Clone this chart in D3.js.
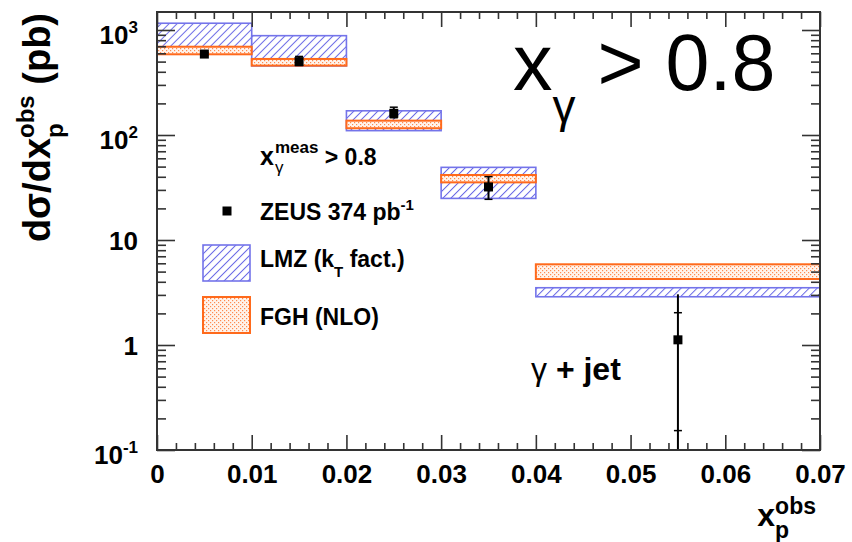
<!DOCTYPE html>
<html>
<head>
<meta charset="utf-8">
<script src="https://cdn.jsdelivr.net/npm/d3@7"></script>
<style>
  html, body { margin: 0; padding: 0; background: #fff; }
  svg { display: block; font-family: "Liberation Sans", Arial, Helvetica, sans-serif; }
</style>
</head>
<body>
<svg id="chart" width="852" height="542"></svg>
<script>
// Bin edges in x_p^obs
const binEdges = [0, 0.01, 0.02, 0.03, 0.04, 0.07];

// ZEUS data points (pb) with error bars
const zeusX      = [0.005, 0.015, 0.025, 0.035, 0.055];
const zeusY      = [590, 500, 161, 32, 1.12];
const zeusTotLo  = [570, 455, 144, 24.4, 0.05];
const zeusTotHi  = [612, 565, 184, 40.1, 3.04];
const zeusStatLo = [575, 460, 146, 24.4, 0.153];
const zeusStatHi = [605, 560, 184, 40.1, 2.03];

// LMZ (kT factorisation) prediction band
const lmzLo = [640, 455, 110, 24.9, 2.88];
const lmzHi = [1160, 883, 170, 49.2, 3.51];

// FGH (NLO) prediction band
const fghLo = [587, 458, 116, 35.4, 4.25];
const fghHi = [693, 530, 137, 41.6, 5.87];

// Axis ticks and labels
const xTicks = [0, 0.01, 0.02, 0.03, 0.04, 0.05, 0.06, 0.07];
const xTickLabels = ["0", "0.01", "0.02", "0.03", "0.04", "0.05", "0.06", "0.07"];
const yMajor = [0.1, 1, 10, 100, 1000];
const yTickBase = ["10", "1", "10", "10", "10"];
const yTickExp  = ["-1", "", "", "2", "3"];

const frame = { left: 157, right: 820, top: 12, bottom: 450 };
const FONT = "Liberation Sans, Arial, Helvetica, sans-serif";

const svg = d3.select("#chart");
const defs = svg.append("defs");

const blue = "#7474ea";
const orange = "#ff6a1c";

// hatch fill (LMZ): thin "/" stripes
const hatch = defs.append("pattern").attr("id", "hatch")
  .attr("patternUnits", "userSpaceOnUse")
  .attr("width", 5.66).attr("height", 5.66)
  .attr("patternTransform", "rotate(45)");
hatch.append("rect").attr("width", 5.66).attr("height", 5.66).attr("fill", "#ffffff");
hatch.append("rect").attr("x", 0).attr("y", 0).attr("width", 1).attr("height", 5.66).attr("fill", "#6a6ae6");

// dotted fill (FGH)
const dots = defs.append("pattern").attr("id", "dots")
  .attr("patternUnits", "userSpaceOnUse").attr("width", 4).attr("height", 4);
dots.append("rect").attr("width", 4).attr("height", 4).attr("fill", "#fff4ec");
dots.append("rect").attr("x", 0).attr("y", 0).attr("width", 1.2).attr("height", 1.2).attr("fill", "#ff8a50");
dots.append("rect").attr("x", 2).attr("y", 2).attr("width", 1.2).attr("height", 1.2).attr("fill", "#ff8a50");

defs.append("clipPath").attr("id", "plotclip").append("rect")
  .attr("x", frame.left).attr("y", frame.top)
  .attr("width", frame.right - frame.left).attr("height", frame.bottom - frame.top);

const x = d3.scaleLinear().domain([0, 0.07]).range([frame.left, frame.right]);
const y = d3.scaleLog().domain([0.1, 1484]).range([frame.bottom, frame.top]);

const plot = svg.append("g").attr("clip-path", "url(#plotclip)");
const bins = d3.range(zeusX.length);

// LMZ bands
plot.append("g").selectAll("rect").data(bins).join("rect")
  .attr("x", i => x(binEdges[i]))
  .attr("width", i => x(binEdges[i + 1]) - x(binEdges[i]))
  .attr("y", i => y(lmzHi[i]))
  .attr("height", i => y(lmzLo[i]) - y(lmzHi[i]))
  .attr("fill", "url(#hatch)").attr("stroke", blue).attr("stroke-width", 1.6);

// FGH bands
plot.append("g").selectAll("rect").data(bins).join("rect")
  .attr("x", i => x(binEdges[i]))
  .attr("width", i => x(binEdges[i + 1]) - x(binEdges[i]))
  .attr("y", i => y(fghHi[i]))
  .attr("height", i => y(fghLo[i]) - y(fghHi[i]))
  .attr("fill", "url(#dots)").attr("stroke", orange).attr("stroke-width", 2);

// ZEUS error bars
const eb = plot.append("g");
eb.selectAll("line.tot").data(bins).join("line").attr("class", "tot")
  .attr("x1", i => x(zeusX[i])).attr("x2", i => x(zeusX[i]))
  .attr("y1", i => y(zeusTotLo[i])).attr("y2", i => y(zeusTotHi[i]))
  .attr("stroke", "#000").attr("stroke-width", 2);
const caps = [];
bins.forEach(i => { caps.push([i, zeusStatLo[i]]); caps.push([i, zeusStatHi[i]]); });
eb.selectAll("line.cap").data(caps).join("line").attr("class", "cap")
  .attr("x1", d => x(zeusX[d[0]]) - 4).attr("x2", d => x(zeusX[d[0]]) + 4)
  .attr("y1", d => y(d[1])).attr("y2", d => y(d[1]))
  .attr("stroke", "#000").attr("stroke-width", 1.5);

// ZEUS markers
plot.append("g").selectAll("rect").data(bins).join("rect")
  .attr("x", i => x(zeusX[i]) - 4.5).attr("y", i => y(zeusY[i]) - 4.5)
  .attr("width", 9).attr("height", 9).attr("fill", "#000");

// ---- axes ----
const axisColor = "#333";
function styleAxis(g) {
  g.select(".domain").remove();
  g.selectAll(".tick line").attr("stroke", axisColor).attr("stroke-width", 1.6);
  g.attr("font-family", FONT).attr("font-weight", "bold").attr("font-size", 26);
}

const xMinor = d3.range(0, 71, 2).filter(v => v % 10 !== 0).map(v => v / 1000);
const yMinor = [];
[0.1, 1, 10, 100, 1000].forEach(dec => {
  for (let k = 2; k <= 9; k++) { const v = dec * k; if (v <= 1484) yMinor.push(v); }
});

// bottom
const gx = svg.append("g").attr("transform", `translate(0,${frame.bottom})`)
  .call(d3.axisBottom(x).tickValues(xTicks).tickSize(-15).tickPadding(15)
    .tickFormat((d, i) => xTickLabels[i]))
  .call(styleAxis);
gx.selectAll(".tick text").attr("fill", "#000");
svg.append("g").attr("transform", `translate(0,${frame.bottom})`)
  .call(d3.axisBottom(x).tickValues(xMinor).tickSize(-7).tickFormat(""))
  .call(styleAxis);

// top
svg.append("g").attr("transform", `translate(0,${frame.top})`)
  .call(d3.axisTop(x).tickValues(xTicks).tickSize(-15).tickFormat(""))
  .call(styleAxis);
svg.append("g").attr("transform", `translate(0,${frame.top})`)
  .call(d3.axisTop(x).tickValues(xMinor).tickSize(-7).tickFormat(""))
  .call(styleAxis);

// left
const gy = svg.append("g").attr("transform", `translate(${frame.left},0)`)
  .call(d3.axisLeft(y).tickValues(yMajor).tickSize(-18).tickPadding(19).tickFormat(""))
  .call(styleAxis);
gy.selectAll(".tick text").each(function(d, i) {
  const t = d3.select(this).attr("fill", "#000").attr("dy", null);
  const hasExp = yTickExp[i] !== "";
  t.attr("y", (hasExp ? 4 : 0) + 9);
  t.append("tspan").text(yTickBase[i]);
  if (hasExp) t.append("tspan").attr("font-size", 17).attr("dy", -11).text(yTickExp[i]);
});
svg.append("g").attr("transform", `translate(${frame.left},0)`)
  .call(d3.axisLeft(y).tickValues(yMinor).tickSize(-9).tickFormat(""))
  .call(styleAxis);

// right
svg.append("g").attr("transform", `translate(${frame.right},0)`)
  .call(d3.axisRight(y).tickValues(yMajor).tickSize(-18).tickFormat(""))
  .call(styleAxis);
svg.append("g").attr("transform", `translate(${frame.right},0)`)
  .call(d3.axisRight(y).tickValues(yMinor).tickSize(-9).tickFormat(""))
  .call(styleAxis);

// frame
svg.append("rect")
  .attr("x", frame.left).attr("y", frame.top)
  .attr("width", frame.right - frame.left).attr("height", frame.bottom - frame.top)
  .attr("fill", "none").attr("stroke", axisColor).attr("stroke-width", 2);

// ---- axis titles ----
function textWidth(str, size, weight) {
  const t = svg.append("text").attr("font-family", FONT)
    .attr("font-size", size).attr("font-weight", weight).text(str);
  const w = t.node().getComputedTextLength();
  t.remove();
  return w;
}

// x title: x_p^obs
{
  const fs = 32, ss = 23;
  const xw = textWidth("x", fs, "bold");
  const ow = textWidth("obs", ss, "bold");
  const x0 = 816 - ow - xw;
  svg.append("text").attr("x", x0).attr("y", 526)
    .attr("font-weight", "bold").attr("font-size", fs).text("x");
  svg.append("text").attr("x", x0 + xw).attr("y", 538)
    .attr("font-weight", "bold").attr("font-size", ss).text("p");
  svg.append("text").attr("x", x0 + xw).attr("y", 514)
    .attr("font-weight", "bold").attr("font-size", ss).text("obs");
}

// y title: dσ/dx_p^obs (pb)
{
  const fs = 38, ss = 24;
  const t = svg.append("text").attr("transform", "translate(50,13) rotate(-90)")
    .attr("text-anchor", "end").attr("font-weight", "bold").attr("font-size", fs);
  const pw = textWidth("p", ss, "bold");
  t.append("tspan").text("dσ/dx");
  t.append("tspan").attr("font-size", ss).attr("dy", 13).text("p");
  t.append("tspan").attr("font-size", ss).attr("dx", -pw).attr("dy", -29).text("obs");
  t.append("tspan").attr("dy", 16).text(" (pb)");
}

// ---- legend ----
const lg = svg.append("g").attr("font-weight", "bold").attr("font-size", 23).attr("fill", "#000");
{
  const t = lg.append("text").attr("x", 260).attr("y", 165);
  t.append("tspan").attr("font-size", 25).text("x");
  const xw = textWidth("x", 25, "bold");
  const mw = textWidth("meas", 17, "bold");
  t.append("tspan").attr("x", 260 + xw + 1).attr("dy", 8).attr("font-size", 17).attr("font-weight", "normal").text("γ");
  t.append("tspan").attr("x", 260 + xw + 1).attr("dy", -20).attr("font-size", 17).text("meas");
  t.append("tspan").attr("x", 260 + xw + 1 + mw).attr("dy", 12).text(" > 0.8");
}
lg.append("rect").attr("x", 222.5).attr("y", 206.5).attr("width", 9).attr("height", 9).attr("fill", "#000");
{
  const t = lg.append("text").attr("x", 260).attr("y", 220);
  t.append("tspan").text("ZEUS 374 pb");
  t.append("tspan").attr("font-size", 15).attr("dy", -10).text("-1");
}
lg.append("rect").attr("x", 203).attr("y", 245).attr("width", 47).attr("height", 36)
  .attr("fill", "url(#hatch)").attr("stroke", blue).attr("stroke-width", 1.6);
{
  const t = lg.append("text").attr("x", 260).attr("y", 267);
  t.append("tspan").text("LMZ (k");
  t.append("tspan").attr("font-size", 15).attr("dy", 10).text("T");
  t.append("tspan").attr("dy", -10).text(" fact.)");
}
lg.append("rect").attr("x", 203).attr("y", 297).attr("width", 47).attr("height", 36)
  .attr("fill", "url(#dots)").attr("stroke", orange).attr("stroke-width", 2);
lg.append("text").attr("x", 260).attr("y", 325).text("FGH (NLO)");

// process label
{
  const t = svg.append("text").attr("x", 531).attr("y", 380)
    .attr("font-weight", "bold").attr("font-size", 32);
  t.append("tspan").attr("font-weight", "normal").text("γ");
  t.append("tspan").text(" + jet");
}

// big selection label
{
  const t = svg.append("text").attr("x", 513).attr("y", 90).attr("font-size", 79);
  t.append("tspan").text("x");
  t.append("tspan").attr("font-size", 46).attr("dy", 32).text("γ");
  t.append("tspan").attr("dy", -32).text(" > 0.8");
}
</script>
</body>
</html>
